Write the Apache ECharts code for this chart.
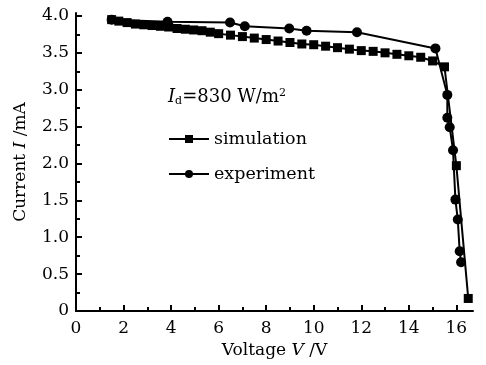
<!DOCTYPE html>
<html><head><meta charset="utf-8">
<script src="https://cdn.jsdelivr.net/npm/echarts@6/dist/echarts.min.js"></script>
<style>html,body{margin:0;padding:0;background:#fff}#c{width:486px;height:365px}</style>
</head><body><div id="c"></div>
<script>
var simV = [1.5,1.8,2.15,2.5,2.85,3.2,3.55,3.9,4.25,4.6,4.95,5.3,5.65,6.0,6.5,7.0,7.5,8.0,8.5,9.0,9.5,10.0,10.5,11.0,11.5,12.0,12.5,13.0,13.5,14.0,14.5,15.0,15.5,16.0,16.5];
var simI = [3.95,3.93,3.91,3.89,3.88,3.87,3.86,3.85,3.83,3.82,3.81,3.80,3.78,3.76,3.74,3.72,3.70,3.68,3.66,3.64,3.62,3.61,3.59,3.57,3.55,3.53,3.52,3.50,3.48,3.46,3.44,3.39,3.31,1.97,0.17];
var expV = [1.5,3.85,6.48,7.1,8.97,9.7,11.82,15.12,15.62,15.62,15.72,15.86,15.96,16.06,16.14,16.2];
var expI = [3.95,3.92,3.91,3.86,3.83,3.80,3.78,3.56,2.93,2.62,2.49,2.18,1.51,1.24,0.81,0.66];
var xTicks = [0,2,4,6,8,10,12,14,16];
var xMinor = [1,3,5,7,9,11,13,15];
var yTicks = [0,0.5,1.0,1.5,2.0,2.5,3.0,3.5,4.0];
var yMinor = [0.25,0.75,1.25,1.75,2.25,2.75,3.25,3.75];
var seriesNames = ['simulation','experiment'];
var FONT = 'DejaVu Serif';

function zip(a,b){return a.map(function(v,i){return [v,b[i]];});}
var chart = echarts.init(document.getElementById('c'), null, {renderer:'canvas'});
var axisCommon = {min:0, axisLine:{show:true,lineStyle:{color:'#000',width:2}}, splitLine:{show:false}};
chart.setOption({
  backgroundColor:'#fff',
  animation:false,
  grid:{left:76,right:13,top:13,bottom:54},
  legend:{
    orient:'vertical', left:163, top:125, itemGap:17, itemWidth:40, itemHeight:10,
    data:seriesNames,
    textStyle:{fontFamily:FONT,fontSize:17.5,color:'#000'}
  },
  graphic:[{
    type:'text', left:168, top:88,
    style:{
      rich:{
        i:{fontFamily:FONT,fontStyle:'italic',fontSize:18,fill:'#000'},
        s:{fontFamily:FONT,fontSize:11,fill:'#000',verticalAlign:'bottom',padding:[8,0,0,0]},
        n:{fontFamily:FONT,fontSize:18,fill:'#000'},
        p:{fontFamily:FONT,fontSize:11,fill:'#000',verticalAlign:'top',padding:[0,0,8,0]}
      },
      text:'{i|I}{s|d}{n|=830 W/m}{p|2}'
    }
  }],
  xAxis:[
    Object.assign({}, axisCommon, {
      type:'value', max:16.7,
      name:'{n|Voltage }{i|V}{n| /V}', nameLocation:'middle', nameGap:30,
      nameTextStyle:{rich:{n:{fontFamily:FONT,fontSize:17,color:'#000'},i:{fontFamily:FONT,fontStyle:'italic',fontSize:17,color:'#000'}}},
      axisTick:{show:true,inside:true,length:6,customValues:xTicks,lineStyle:{color:'#000',width:2}},
      axisLabel:{customValues:xTicks,fontFamily:FONT,fontSize:17,color:'#000',margin:9}
    }),
    {type:'value',min:0,max:16.7,position:'bottom',axisLine:{show:false},splitLine:{show:false},
     axisTick:{show:true,inside:true,length:4,customValues:xMinor,lineStyle:{color:'#000',width:2}},
     axisLabel:{show:false}}
  ],
  yAxis:[
    Object.assign({}, axisCommon, {
      type:'value', max:4.04,
      name:'{n|Current }{i|I}{n| /mA}', nameLocation:'middle', nameGap:47, nameRotate:90,
      nameTextStyle:{rich:{n:{fontFamily:FONT,fontSize:17,color:'#000'},i:{fontFamily:FONT,fontStyle:'italic',fontSize:17,color:'#000'}}},
      axisTick:{show:true,inside:true,length:6,customValues:yTicks,lineStyle:{color:'#000',width:2}},
      axisLabel:{customValues:yTicks,fontFamily:FONT,fontSize:17,color:'#000',margin:7,
        formatter:function(v){return v===0?'0':v.toFixed(1);}}
    }),
    {type:'value',min:0,max:4.04,position:'left',offset:0,axisLine:{show:false},splitLine:{show:false},
     axisTick:{show:true,inside:true,length:4,customValues:yMinor,lineStyle:{color:'#000',width:2}},
     axisLabel:{show:false}}
  ],
  series:[
    {name:seriesNames[0],type:'line',data:zip(simV,simI),symbol:'rect',symbolSize:9,
     lineStyle:{color:'#000',width:2},itemStyle:{color:'#000'},z:3},
    {name:seriesNames[1],type:'line',data:zip(expV,expI),symbol:'circle',symbolSize:10,
     lineStyle:{color:'#000',width:2},itemStyle:{color:'#000'},z:4}
  ]
});
</script></body></html>
